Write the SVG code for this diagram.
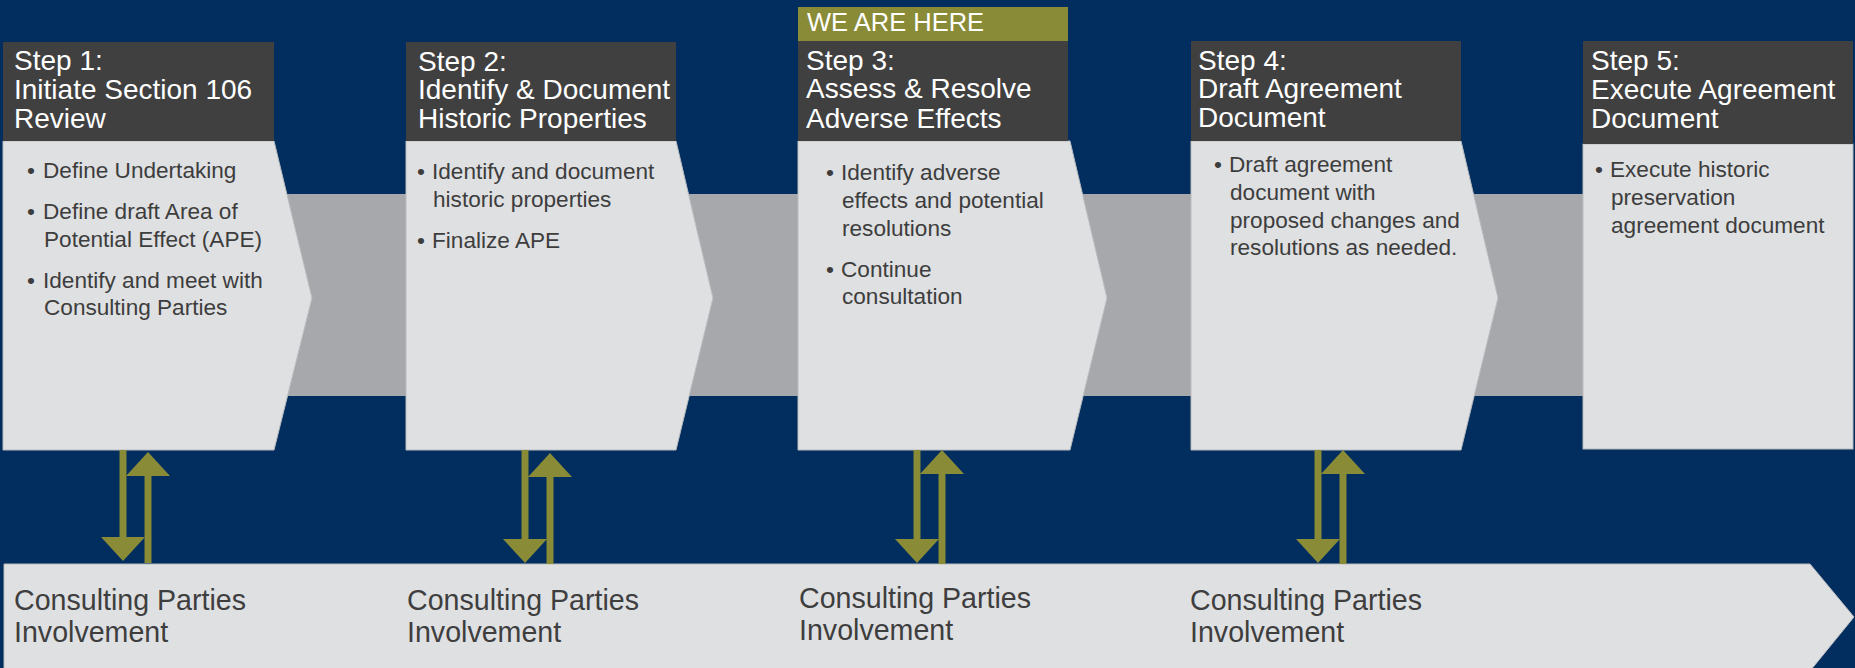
<svg xmlns="http://www.w3.org/2000/svg" width="1855" height="668" viewBox="0 0 1855 668">
<defs>
<style>
.bg{fill:#012d5f}
.band{fill:#a7a8ab}
.body{fill:#dfe0e2;stroke:#b9bbbe;stroke-width:1}
.hdr{fill:#404040}
.olive{fill:#8a8b37}
.ht{font-family:"Liberation Sans",Arial,sans-serif;font-size:28px;fill:#ffffff}
.bt{font-family:"Liberation Sans",Arial,sans-serif;font-size:22.6px;fill:#3d3d3d}
.lt{font-family:"Liberation Sans",Arial,sans-serif;font-size:28.6px;fill:#3e3e3e}
.wt{font-family:"Liberation Sans",Arial,sans-serif;font-size:25.5px;fill:#ffffff}
.conn{stroke:#8a8b37;stroke-width:7;fill:none}
</style>
<marker id="ah" markerUnits="userSpaceOnUse" markerWidth="26" markerHeight="46" viewBox="0 -23 26 46" refX="0" refY="0" orient="auto">
<path d="M0,-22 L24,0 L0,22 Z" fill="#8a8b37"/>
</marker>
</defs>
<rect class="bg" x="0" y="0" width="1855" height="668"/>
<rect class="band" x="200" y="194" width="1390" height="202"/>

<g id="involvement">
<polygon class="body" points="4,564 1810,564 1854,617 1810,671 4,671" stroke="none"/>
<text class="lt" x="14" y="610">Consulting Parties</text>
<text class="lt" x="14" y="642">Involvement</text>
<text class="lt" x="407" y="610">Consulting Parties</text>
<text class="lt" x="407" y="642">Involvement</text>
<text class="lt" x="799" y="608">Consulting Parties</text>
<text class="lt" x="799" y="640">Involvement</text>
<text class="lt" x="1190" y="610">Consulting Parties</text>
<text class="lt" x="1190" y="642">Involvement</text>
</g>

<g id="step1">
<polygon class="body" points="3,141 274,141 312,298 274,450 3,450"/>
<rect class="hdr" x="3" y="42" width="271" height="99"/>
<text class="ht" x="14" y="70">Step 1:</text>
<text class="ht" x="14" y="99">Initiate Section 106</text>
<text class="ht" x="14" y="128">Review</text>
<text class="bt" x="27" y="178">•</text><text class="bt" x="43" y="178">Define Undertaking</text>
<text class="bt" x="27" y="219">•</text><text class="bt" x="43" y="219">Define draft Area of</text>
<text class="bt" x="44" y="247">Potential Effect (APE)</text>
<text class="bt" x="27" y="288">•</text><text class="bt" x="43" y="288">Identify and meet with</text>
<text class="bt" x="44" y="315">Consulting Parties</text>
</g>

<g id="step2">
<polygon class="body" points="406,141 676,141 713,298 676,450 406,450"/>
<rect class="hdr" x="406" y="42" width="270" height="99"/>
<text class="ht" x="418" y="71">Step 2:</text>
<text class="ht" x="418" y="99">Identify &amp; Document</text>
<text class="ht" x="418" y="128">Historic Properties</text>
<text class="bt" x="417" y="179">•</text><text class="bt" x="432" y="179">Identify and document</text>
<text class="bt" x="433" y="207">historic properties</text>
<text class="bt" x="417" y="248">•</text><text class="bt" x="432" y="248">Finalize APE</text>
</g>

<g id="step3">
<polygon class="body" points="798,141 1070,141 1107,298 1070,450 798,450"/>
<rect class="olive" x="798" y="7" width="270" height="34"/>
<text class="wt" x="807" y="31">WE ARE HERE</text>
<rect class="hdr" x="798" y="41" width="270" height="100"/>
<text class="ht" x="806" y="70">Step 3:</text>
<text class="ht" x="806" y="98">Assess &amp; Resolve</text>
<text class="ht" x="806" y="128">Adverse Effects</text>
<text class="bt" x="826" y="180">•</text><text class="bt" x="841" y="180">Identify adverse</text>
<text class="bt" x="842" y="208">effects and potential</text>
<text class="bt" x="842" y="236">resolutions</text>
<text class="bt" x="826" y="277">•</text><text class="bt" x="841" y="277">Continue</text>
<text class="bt" x="842" y="304">consultation</text>
</g>

<g id="step4">
<polygon class="body" points="1191,141 1461,141 1498,298 1461,450 1191,450"/>
<rect class="hdr" x="1191" y="41" width="270" height="100"/>
<text class="ht" x="1198" y="70">Step 4:</text>
<text class="ht" x="1198" y="98">Draft Agreement</text>
<text class="ht" x="1198" y="127">Document</text>
<text class="bt" x="1214" y="172">•</text><text class="bt" x="1229" y="172">Draft agreement</text>
<text class="bt" x="1230" y="200">document with</text>
<text class="bt" x="1230" y="228">proposed changes and</text>
<text class="bt" x="1230" y="255">resolutions as needed.</text>
</g>

<g id="step5">
<rect class="body" x="1583" y="144" width="270" height="305"/>
<rect class="hdr" x="1583" y="41" width="270" height="103"/>
<text class="ht" x="1591" y="70">Step 5:</text>
<text class="ht" x="1591" y="99">Execute Agreement</text>
<text class="ht" x="1591" y="128">Document</text>
<text class="bt" x="1595" y="177">•</text><text class="bt" x="1610" y="177">Execute historic</text>
<text class="bt" x="1611" y="205">preservation</text>
<text class="bt" x="1611" y="233">agreement document</text>
</g>

<g id="connectors">
<line class="conn" x1="123" y1="450" x2="123" y2="537" marker-end="url(#ah)"/>
<line class="conn" x1="148" y1="563" x2="148" y2="476" marker-end="url(#ah)"/>
<line class="conn" x1="525" y1="450" x2="525" y2="539" marker-end="url(#ah)"/>
<line class="conn" x1="550" y1="564" x2="550" y2="477" marker-end="url(#ah)"/>
<line class="conn" x1="917" y1="450" x2="917" y2="539" marker-end="url(#ah)"/>
<line class="conn" x1="942" y1="564" x2="942" y2="474" marker-end="url(#ah)"/>
<line class="conn" x1="1318" y1="450" x2="1318" y2="539" marker-end="url(#ah)"/>
<line class="conn" x1="1343" y1="564" x2="1343" y2="474" marker-end="url(#ah)"/>
</g>
</svg>
